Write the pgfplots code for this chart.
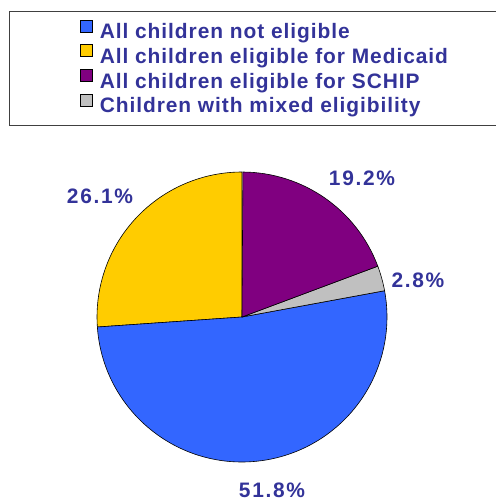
\documentclass[border=0pt]{standalone}
\usepackage{pgfplots}
\usepackage{pgfplotstable}
\pgfplotsset{compat=1.18}
\usepackage{fontspec}
\setmainfont{Liberation Sans}
\newfontfamily\spaced[LetterSpace=8]{Liberation Sans}
\newfontfamily\legspaced[LetterSpace=4.5]{Liberation Sans}
\definecolor{pieblue}{HTML}{3366FF}
\definecolor{pieyellow}{HTML}{FFCC00}
\definecolor{piepurple}{HTML}{800080}
\definecolor{piegray}{HTML}{C0C0C0}
\definecolor{txtblue}{HTML}{333399}
\pgfplotstableread{
value color
26.1 pieyellow
51.8 pieblue
2.8 piegray
19.2 piepurple
}\piedata
\begin{document}
\begin{tikzpicture}
\useasboundingbox (0,0) rectangle (496bp,503bp);
\begin{axis}[
  at={(0,0)}, anchor=south west,
  width=496bp, height=503bp, scale only axis,
  xmin=0, xmax=496, ymin=0, ymax=503,
  hide axis, clip=false,
  legend cell align=left,
  legend image code/.code={\draw[#1, draw=black, line width=0.6pt] (0bp,1.5bp) rectangle (12bp,13.5bp);},
  legend style={at={(axis cs:80,483.5)}, anchor=north west, draw=none, fill=none,
    font=\fontsize{21}{24}\selectfont\legspaced\bfseries, text=txtblue,
    row sep=1bp, inner sep=0pt,
    nodes={inner sep=0pt, text height=15bp, text depth=5bp},
    /tikz/every odd column/.style={column sep=7bp}},
]
\draw[line width=0.7pt, black!75] (axis cs:9,492) rectangle (axis cs:520,378);
\addlegendimage{fill=pieblue}
\addlegendentry{All children not eligible}
\addlegendimage{fill=pieyellow}
\addlegendentry{All children eligible for Medicaid}
\addlegendimage{fill=piepurple}
\addlegendentry{All children eligible for SCHIP}
\addlegendimage{fill=piegray}
\addlegendentry{Children with mixed eligibility}
\def\startangle{90}
\pgfplotstablegetrowsof{\piedata}
\pgfmathtruncatemacro\nrows{\pgfplotsretval-1}
\pgfplotsforeachungrouped \i in {0,...,\nrows}{
  \pgfplotstablegetelem{\i}{value}\of\piedata \let\v\pgfplotsretval
  \pgfplotstablegetelem{\i}{color}\of\piedata \let\c\pgfplotsretval
  \pgfmathsetmacro\endangle{\startangle+3.6*\v}
  \edef\temp{\noexpand\fill[fill=\c, draw=black, line width=0.6pt] (axis cs:242,186) -- ++(\startangle:145bp) arc[start angle=\startangle, end angle=\endangle, radius=145bp] -- cycle;}
  \temp
  \let\startangle\endangle
}
\begin{scope}[font=\fontsize{21}{24}\selectfont\spaced\bfseries, text=txtblue]
\node at (axis cs:100,307) {26.1\%};
\node at (axis cs:362,325) {19.2\%};
\node at (axis cs:418,223) {2.8\%};
\node at (axis cs:272,13) {51.8\%};
\end{scope}
\end{axis}
\end{tikzpicture}
\end{document}
